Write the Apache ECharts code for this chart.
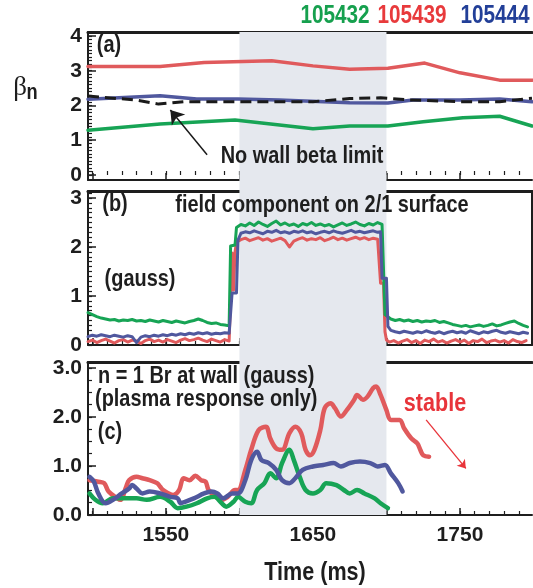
<!DOCTYPE html>
<html><head><meta charset="utf-8">
<script src="https://cdn.jsdelivr.net/npm/echarts@6/dist/echarts.min.js"></script>
<style>html,body{margin:0;padding:0;background:#fff}#c{width:533px;height:588px}</style>
</head><body><div id="c"></div>
<script>
// ---------- DATA ----------
const shots = ['105432', '105439', '105444']; // green, red, blue
// Panel (a): beta_n
const aRed = [[1497,3.12],[1546,3.12],[1576,3.24],[1622,3.29],[1650,3.14],[1675,3.04],[1701,3.07],[1726,3.22],[1750,2.94],[1777,2.73],[1799,2.73]];
const aBlue = [[1497,2.18],[1546,2.28],[1571,2.19],[1599,2.19],[1627,2.16],[1675,2.08],[1701,2.07],[1718,2.16],[1750,2.16],[1777,2.19],[1799,2.11]];
const aGreen = [[1497,1.29],[1546,1.47],[1597,1.58],[1650,1.33],[1675,1.41],[1701,1.41],[1725,1.53],[1752,1.65],[1777,1.69],[1799,1.41]];
const aNoWall = [[1497,2.27],[1529,2.16],[1545,2.04],[1562,2.11],[1650,2.11],[1675,2.2],[1696,2.22],[1716,2.16],[1750,2.11],[1777,2.11],[1799,2.21]];
// Panel (b): field component on 2/1 surface (gauss)
const bGreen = [[1497,0.66],[1500,0.62],[1503,0.58],[1506,0.55],[1509,0.53],[1512,0.51],[1515,0.52],[1518,0.49],[1521,0.51],[1524,0.50],[1527,0.52],[1530,0.49],[1533,0.50],[1536,0.48],[1539,0.51],[1542,0.49],[1545,0.47],[1548,0.50],[1551,0.48],[1554,0.46],[1557,0.49],[1560,0.47],[1563,0.45],[1566,0.48],[1569,0.50],[1572,0.53],[1575,0.50],[1578,0.46],[1581,0.44],[1584,0.45],[1587,0.42],[1590,0.41],[1593,0.39],[1594,2.02],[1597,2.04],
[1598,2.40],[1601,2.46],[1604,2.43],[1607,2.49],[1610,2.44],[1613,2.51],[1616,2.46],[1619,2.42],[1622,2.48],[1625,2.53],[1628,2.45],[1631,2.49],[1634,2.44],[1637,2.47],[1640,2.42],[1643,2.48],[1646,2.45],[1649,2.50],[1652,2.44],[1655,2.47],[1658,2.43],[1661,2.46],[1664,2.41],[1667,2.45],[1670,2.49],[1673,2.44],[1676,2.47],[1679,2.51],[1682,2.46],[1685,2.43],[1688,2.48],[1691,2.45],[1694,2.50],[1697,2.46],[1699,0.62],
[1700,0.60],[1703,0.53],[1706,0.50],[1709,0.52],[1712,0.49],[1715,0.51],[1718,0.48],[1721,0.50],[1724,0.47],[1727,0.49],[1730,0.48],[1733,0.50],[1736,0.46],[1739,0.48],[1742,0.45],[1745,0.42],[1748,0.40],[1751,0.38],[1754,0.40],[1757,0.37],[1760,0.39],[1763,0.41],[1766,0.38],[1769,0.40],[1772,0.43],[1775,0.39],[1778,0.41],[1781,0.44],[1784,0.47],[1787,0.49],[1790,0.44],[1793,0.40],[1796,0.37]];
const bBlue = [[1497,0.17],[1500,0.20],[1503,0.18],[1506,0.21],[1509,0.19],[1512,0.17],[1515,0.20],[1518,0.18],[1521,0.16],[1524,0.19],[1527,0.17],[1530,0.05],[1533,0.16],[1536,0.19],[1539,0.17],[1542,0.20],[1545,0.18],[1548,0.21],[1551,0.19],[1554,0.22],[1557,0.20],[1560,0.23],[1563,0.21],[1566,0.24],[1569,0.22],[1572,0.25],[1575,0.23],[1578,0.25],[1581,0.22],[1584,0.24],[1587,0.23],[1590,0.25],[1593,0.24],[1595,1.06],[1598,1.06],[1599,2.14],
[1601,2.28],[1604,2.31],[1607,2.29],[1610,2.33],[1613,2.30],[1616,2.27],[1619,2.32],[1622,2.30],[1625,2.34],[1628,2.29],[1631,2.31],[1634,2.28],[1637,2.32],[1640,2.30],[1643,2.33],[1646,2.29],[1649,2.31],[1652,2.27],[1655,2.30],[1658,2.32],[1661,2.29],[1664,2.33],[1667,2.30],[1670,2.28],[1673,2.31],[1676,2.34],[1679,2.30],[1682,2.32],[1685,2.29],[1688,2.31],[1691,2.33],[1694,2.30],[1696,2.31],[1697,1.36],[1700,1.36],[1701,0.38],
[1703,0.30],[1706,0.27],[1709,0.25],[1712,0.28],[1715,0.26],[1718,0.24],[1721,0.27],[1724,0.25],[1727,0.29],[1730,0.26],[1733,0.24],[1736,0.27],[1739,0.23],[1742,0.26],[1745,0.28],[1748,0.25],[1751,0.27],[1754,0.24],[1757,0.29],[1760,0.26],[1763,0.23],[1766,0.27],[1769,0.25],[1772,0.28],[1775,0.30],[1778,0.26],[1781,0.24],[1784,0.27],[1787,0.25],[1790,0.23],[1793,0.26],[1796,0.24]];
const bRed = [[1497,0.07],[1500,0.10],[1503,0.05],[1506,0.09],[1509,0.12],[1512,0.08],[1515,0.04],[1518,0.09],[1521,0.11],[1524,0.06],[1527,0.10],[1530,0.08],[1533,0.03],[1536,0.09],[1539,0.12],[1542,0.07],[1545,0.10],[1548,0.06],[1551,0.11],[1554,0.08],[1557,0.05],[1560,0.10],[1563,0.13],[1566,0.09],[1569,0.11],[1572,0.14],[1575,0.10],[1578,0.07],[1581,0.12],[1584,0.09],[1587,0.06],[1590,0.11],[1593,0.08],[1594,0.10],[1595,1.88],[1596,1.12],[1597,1.90],[1598,2.10],
[1601,2.15],[1604,2.18],[1607,2.13],[1610,2.16],[1613,2.19],[1616,2.14],[1619,2.17],[1622,2.12],[1625,2.15],[1628,2.18],[1631,2.13],[1634,2.00],[1637,2.12],[1640,2.16],[1643,2.19],[1646,2.14],[1649,2.17],[1652,2.15],[1655,2.19],[1658,2.13],[1661,2.16],[1664,2.20],[1667,2.15],[1670,2.18],[1673,2.14],[1676,2.17],[1679,2.20],[1682,2.16],[1685,2.19],[1688,2.15],[1691,2.18],[1694,2.16],[1695,2.15],[1696,1.26],[1698,1.26],[1699,0.27],[1700,0.10],
[1702,0.06],[1705,0.09],[1708,0.04],[1711,0.08],[1714,0.11],[1717,0.05],[1720,0.09],[1723,0.03],[1726,0.10],[1729,0.07],[1732,0.12],[1735,0.06],[1738,0.09],[1741,0.04],[1744,0.08],[1747,0.11],[1750,0.06],[1753,0.10],[1756,0.03],[1759,0.09],[1762,0.07],[1765,0.12],[1768,0.05],[1771,0.08],[1774,0.10],[1777,0.06],[1780,0.09],[1783,0.04],[1786,0.11],[1789,0.07],[1792,0.05],[1795,0.09]];
// Panel (c): n=1 Br at wall (gauss), plasma response only
const cRed = [[1498,0.71],[1504,0.68],[1508,0.65],[1511,0.48],[1517,0.34],[1519,0.31],[1523,0.58],[1525,0.71],[1530,0.78],[1534,0.75],[1539,0.71],[1544,0.65],[1546,0.58],[1548,0.51],[1555,0.41],[1559,0.51],[1562,0.75],[1566,0.71],[1570,0.80],[1574,0.71],[1577,0.68],[1579,0.51],[1584,0.37],[1588,0.31],[1592,0.37],[1597,0.51],[1599,0.51],[1604,0.92],[1608,1.33],[1613,1.73],[1618,1.80],[1621,1.56],[1625,1.36],[1629,1.33],[1634,1.67],[1638,1.80],[1642,1.67],[1645,1.33],[1648,1.22],[1651,1.33],[1655,1.73],[1658,2.18],[1662,2.28],[1665,2.18],[1669,2.01],[1673,2.14],[1678,2.35],[1680,2.45],[1684,2.35],[1687,2.41],[1691,2.59],[1693,2.62],[1696,2.45],[1700,2.14],[1703,1.94],[1709,1.94],[1712,1.77],[1717,1.56],[1721,1.46],[1723,1.33],[1725,1.22],[1729,1.19]];
const cBlue = [[1498,0.78],[1501,0.68],[1504,0.44],[1509,0.24],[1514,0.31],[1520,0.44],[1525,0.54],[1527,0.61],[1530,0.54],[1534,0.44],[1539,0.48],[1546,0.44],[1553,0.37],[1558,0.34],[1560,0.24],[1563,0.27],[1569,0.34],[1576,0.44],[1581,0.48],[1585,0.44],[1589,0.34],[1595,0.44],[1599,0.44],[1604,0.71],[1608,1.12],[1612,1.29],[1615,1.12],[1620,1.06],[1625,0.92],[1629,0.71],[1634,0.65],[1638,0.75],[1643,0.92],[1650,0.99],[1657,1.02],[1664,1.06],[1669,0.99],[1675,1.06],[1682,1.09],[1689,1.06],[1694,0.99],[1699,1.02],[1703,0.85],[1708,0.65],[1711,0.48]];
const cGreen = [[1498,0.44],[1502,0.31],[1507,0.24],[1514,0.34],[1530,0.34],[1537,0.31],[1546,0.37],[1553,0.27],[1558,0.14],[1564,0.17],[1571,0.24],[1578,0.34],[1583,0.37],[1588,0.24],[1591,0.17],[1596,0.27],[1599,0.37],[1604,0.27],[1608,0.24],[1612,0.51],[1617,0.65],[1621,0.85],[1625,0.75],[1629,1.06],[1634,1.33],[1637,1.12],[1641,0.78],[1645,0.51],[1650,0.44],[1655,0.51],[1659,0.65],[1666,0.61],[1671,0.51],[1675,0.44],[1680,0.51],[1685,0.44],[1692,0.34],[1696,0.24],[1701,0.14]];
// shaded interval (ms)
const shadeInterval = [1600, 1700];
// tick labels
const xLabelValues = [1550, 1650, 1750];
const aYLabelValues = [0, 1, 2, 3, 4];
const bYLabelValues = [0, 1, 2, 3];
const cYLabelValues = [0, 1, 2, 3];

// ---------- STYLE ----------
const FONT = "'Liberation Sans', Arial, sans-serif";
const RED = '#e05a5c', BLUE = '#50589e', GREEN = '#17a455';
const X_MIN = 1497, X_MAX = 1799;
const xMajor = [1500,1550,1600,1650,1700,1750];
const xMinor = []; for (let t = 1500; t <= 1790; t += 10) xMinor.push(t);
function steps(a, b, s) { const r = []; for (let v = a; v <= b + 1e-9; v += s) r.push(+v.toFixed(3)); return r; }

const panels = [
  {top: 32, height: 148, min: -0.144, max: 4.115, labels: aYLabelValues, minor: steps(0, 4.1, 0.1), fmt: v => String(v)},
  {top: 191, height: 154, min: 0, max: 3.143, labels: bYLabelValues, minor: steps(0, 3.1, 0.1), fmt: v => String(v)},
  {top: 362, height: 153, min: 0, max: 3.122, labels: cYLabelValues, minor: steps(0, 3.0, 0.25), fmt: v => v.toFixed(1)}
];
const AX = '#1e1e1e';
const labelStyle = {fontFamily: FONT, fontWeight: 'bold', fontSize: 21, color: '#1e1e1e'};

const grid = [], xAxis = [], yAxis = [];
panels.forEach((p, i) => {
  grid.push({left: 88, right: 1, top: p.top, height: p.height});
  xAxis.push({gridIndex: i, type: 'value', min: X_MIN, max: X_MAX, position: 'bottom',
    axisLine: {show: true, onZero: false, lineStyle: {color: AX, width: 2}},
    axisTick: {show: true, inside: true, length: 7, customValues: xMajor, lineStyle: {color: AX, width: 1.5}},
    axisLabel: {show: i === 2, customValues: xLabelValues, margin: 10, formatter: v => String(v), ...labelStyle},
    splitLine: {show: false}});
  xAxis.push({gridIndex: i, type: 'value', min: X_MIN, max: X_MAX, position: 'bottom',
    axisLine: {show: false}, axisTick: {show: true, inside: true, length: 4, customValues: xMinor, lineStyle: {color: AX, width: 1.2}},
    axisLabel: {show: false}, splitLine: {show: false}});
  xAxis.push({gridIndex: i, type: 'value', min: X_MIN, max: X_MAX, position: 'top',
    axisLine: {show: true, onZero: false, lineStyle: {color: AX, width: 3}},
    axisTick: {show: false}, axisLabel: {show: false}, splitLine: {show: false}});
  yAxis.push({gridIndex: i, type: 'value', min: p.min, max: p.max, position: 'left',
    axisLine: {show: true, onZero: false, lineStyle: {color: AX, width: 2}},
    axisTick: {show: true, inside: true, length: 8, customValues: p.labels, lineStyle: {color: AX, width: 1.5}},
    axisLabel: {show: true, customValues: p.labels, margin: 6, formatter: p.fmt, ...labelStyle},
    splitLine: {show: false}});
  yAxis.push({gridIndex: i, type: 'value', min: p.min, max: p.max, position: 'left',
    axisLine: {show: false}, axisTick: {show: true, inside: true, length: 4, customValues: p.minor, lineStyle: {color: AX, width: 1.2}},
    axisLabel: {show: false}, splitLine: {show: false}});
});
yAxis.push({gridIndex: 1, type: 'value', min: panels[1].min, max: panels[1].max, position: 'right',
  axisLine: {show: true, onZero: false, lineStyle: {color: AX, width: 2}}, axisTick: {show: false}, axisLabel: {show: false}, splitLine: {show: false}});
grid.push({left: 88, right: 1, top: 32, height: 483});
xAxis.push({gridIndex: 3, type: 'value', min: X_MIN, max: X_MAX, show: false});
yAxis.push({gridIndex: 3, type: 'value', min: 0, max: 1, show: false});

function line(data, color, xi, yi, width, extra) {
  return Object.assign({type: 'line', data, xAxisIndex: xi, yAxisIndex: yi, symbol: 'none', silent: true, z: 3,
    lineStyle: {color, width, cap: 'round', join: 'round'}, animation: false}, extra || {});
}

const series = [
  {type: 'line', data: [], xAxisIndex: 9, yAxisIndex: 7, silent: true, z: 1, animation: false,
   markArea: {silent: true, itemStyle: {color: '#e5e8ee'}, data: [[{xAxis: shadeInterval[0]}, {xAxis: shadeInterval[1]}]]}},
  line(aRed, RED, 0, 0, 3.5),
  line(aGreen, GREEN, 0, 0, 3.5),
  line(aBlue, BLUE, 0, 0, 3.5),
  line(aNoWall, '#1a1a1a', 0, 0, 3, {lineStyle: {color: '#1a1a1a', width: 3, type: [11, 6]},
    markLine: {silent: true, symbol: ['none', 'arrow'], symbolSize: 13, label: {show: false},
      lineStyle: {color: '#1a1a1a', width: 1.5, type: 'solid'},
      data: [[{coord: [1578, 0.58]}, {coord: [1553, 1.87]}]]}}),
  line(bRed, RED, 3, 2, 3),
  line(bGreen, GREEN, 3, 2, 3),
  line(bBlue, BLUE, 3, 2, 3),
  line(cRed, RED, 6, 4, 4.5, {smooth: 0.35,
    markLine: {silent: true, symbol: ['none', 'arrow'], symbolSize: 8, label: {show: false},
      lineStyle: {color: '#e8343a', width: 1.3, type: 'solid'},
      data: [[{coord: [1727, 1.94]}, {coord: [1754, 0.95]}]]}}),
  line(cGreen, GREEN, 6, 4, 4.5, {smooth: 0.35}),
  line(cBlue, BLUE, 6, 4, 4.5, {smooth: 0.35})
];

// condensed bold text: Liberation Sans Bold squeezed horizontally
const T = (text, x, y, size, color, align) => ({type: 'text', silent: true, z: 10, x, y, scaleX: 0.83,
  style: {text, x: 0, y: 0, align: align || 'center', verticalAlign: 'middle', font: `bold ${size}px ${FONT}`, fill: color || '#1e1e1e'}});

const graphic = [
  T(shots[0], 335, 16, 25, '#16a04e'),
  T(shots[1], 412, 16, 25, '#e83a3c'),
  T(shots[2], 495, 16, 25, '#223f98'),
  {type: 'text', silent: true, z: 10, style: {text: 'β', x: 20, y: 88, align: 'center', verticalAlign: 'middle', font: "27px 'Liberation Serif', serif", fill: '#1e1e1e'}},
  T('n', 32, 93, 22, '#1e1e1e'),
  T('(a)', 109, 45, 24),
  T('No wall beta limit', 302, 156, 24),
  T('(b)', 115, 204, 24),
  T('field component on 2/1 surface', 322, 205, 24),
  T('(gauss)', 140, 279, 24),
  T('n = 1 Br at wall (gauss)', 98, 376, 24, '#1e1e1e', 'left'),
  T('(plasma response only)', 95, 399, 24, '#1e1e1e', 'left'),
  T('(c)', 110, 432, 24),
  T('stable', 435, 404, 26, '#e8343a'),
  T('Time (ms)', 315, 573, 26)
];

const chart = echarts.init(document.getElementById('c'), null, {renderer: 'canvas'});
chart.setOption({animation: false, backgroundColor: '#fff', grid, xAxis, yAxis, series, graphic});
</script>
</body></html>
